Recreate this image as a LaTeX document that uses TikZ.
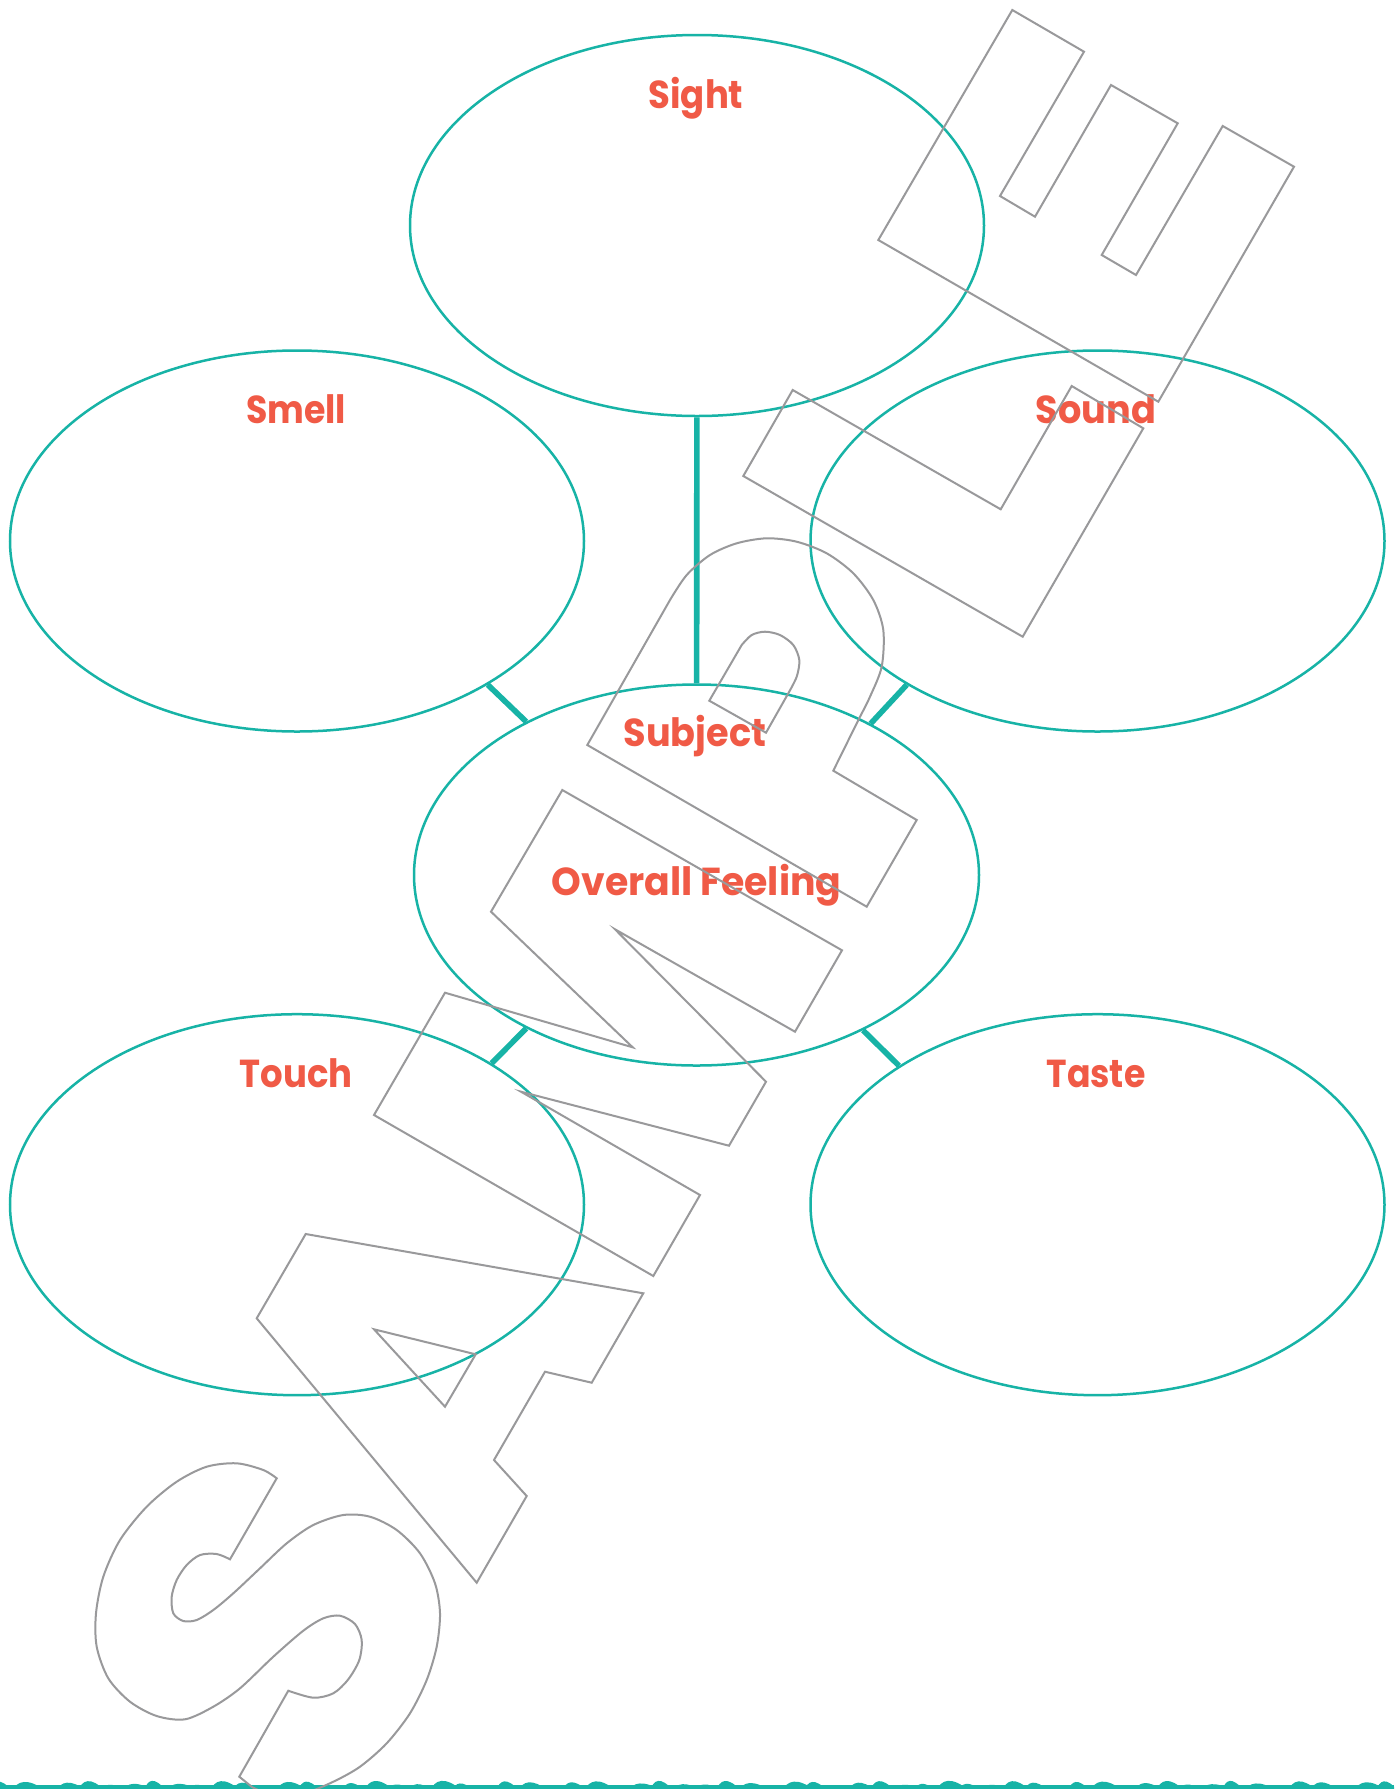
\documentclass[tikz,border=0pt]{standalone}
\usepackage{fontspec}
\setmainfont{Poppins}
\usetikzlibrary{shapes.geometric}
\definecolor{tealc}{HTML}{17B3A6}
\definecolor{coral}{HTML}{F05A46}
\definecolor{wm}{HTML}{99999B}
\newcommand{\hsq}[2]{\scalebox{#1}[1]{#2}}
\begin{document}
\begin{tikzpicture}[x=0.5pt,y=-0.5pt,
  sense/.style={ellipse, draw=tealc, line width=1.25pt, inner sep=0pt,
    minimum width=287pt, minimum height=190.5pt},
  lbl/.style={text=coral, font=\bfseries\fontsize{19.5}{23}\selectfont,
    inner sep=0pt, anchor=base},
  link/.style={draw=tealc, line width=2.8pt},
  wmline/.style={draw=wm, line width=1pt, line join=miter}]
\useasboundingbox (0,0) rectangle (1394,1789);
\fill[white] (0,0) rectangle (1394,1789);

% ellipses
\node[sense] (sight) at (697,225.5) {};
\node[sense] (smell) at (297,541) {};
\node[sense] (sound) at (1097.5,541) {};
\node[sense, minimum width=282.5pt] (subject) at (696.5,875) {};
\node[sense] (touch) at (297,1204.7) {};
\node[sense] (taste) at (1097.5,1204.7) {};

% connectors
\draw[link] (sight) -- (subject);
\draw[link] (smell.-37.6) -- (subject.138.3);
\draw[link] (sound.217.7) -- (subject.41.7);
\draw[link] (touch.36.5) -- (subject.222.3);
\draw[link] (taste.145.2) -- (subject.-43.7);

% labels
\node[lbl] (tsight) at (696,108) {\hsq{0.91}{Sight}};
\node[lbl] (tsmell) at (296,423) {\hsq{0.89}{Smell}};
\node[lbl] (tsound) at (1096,423) {\hsq{0.94}{Sound}};
\node[lbl] (tsubject) at (695,746.5) {\hsq{0.94}{Subject}};
\node[lbl] (tfeel) at (696.5,895) {\hsq{0.97}{Overall Feeling}};
\node[lbl] (ttouch) at (296,1087) {\hsq{0.91}{Touch}};
\node[lbl] (ttaste) at (1096,1087) {\hsq{0.89}{Taste}};

% wavy bottom border
\begin{scope}
\clip (0,0) rectangle (1394,1789);
\foreach \x [evaluate=\x as \w using {28+6*sin(\x*7)},
             evaluate=\x as \h using {9+2.5*cos(\x*5)}] in {-10,12,...,1400}
  \fill[tealc] (\x,1791) .. controls ({\x+0.15*\w},{1791-\h}) and ({\x+0.45*\w},{1791-1.35*\h}) .. ({\x+\w},1791) -- cycle;
\fill[tealc] (0,1785) rectangle (1394,1791);
\end{scope}

% SAMPLE watermark
\begin{scope}
\clip (0,0) rectangle (1394,1789);
% S
\draw[wmline] (276.7,1478.3) -- (230,1559.3)
  -- plot[smooth] coordinates {(230,1559.3) (216.7,1554) (200,1555) (186.7,1565) (176.7,1580) (171.7,1596.7) (173.3,1613.3) (183.3,1621) (196.7,1620) (213.3,1610) (233.3,1593.3) (260,1568.3) (286.7,1543.3) (313.3,1525) (343.3,1515) (370,1516.7) (396.7,1530) (420,1553.3) (435,1583.3) (440,1613.3) (436.7,1646.7) (426.7,1680) (410,1713.3) (386.7,1743.3) (360,1766.7) (333.3,1781.7) (305,1793) (275,1796) (252,1787)}
  -- (239.3,1776.7) -- (288.3,1690.7)
  -- plot[smooth] coordinates {(288.3,1690.7) (313.3,1697.7) (333.3,1693.3) (348.3,1679.3) (359.3,1660) (361.7,1640) (355,1624) (340,1615.7) (323.3,1618.3) (303.3,1630.7) (273.3,1656.7) (240,1688.3) (213.3,1706.7) (185,1719.3) (156.7,1716) (130,1701.7) (108.3,1678.3) (96.7,1646.7) (96,1613.3) (103.3,1576.7) (120,1540) (146.7,1506.7) (176.7,1481.7) (206.7,1466.7) (236.7,1463.3) (263.3,1470) (276.7,1478.3)}
  -- cycle;
% A
\draw[wmline] (305.7,1234) -- (256.7,1318.3) -- (476.7,1582.7) -- (526.7,1496)
  -- (494,1460) -- (545,1371.7) -- (591.7,1382.7) -- (643.3,1293.3) -- cycle;
\draw[wmline] (374,1329.3) -- (475.7,1354.3) -- (445,1406.7) -- cycle;
% M
\draw[wmline] (562.3,790) -- (491,911.7) -- (632.7,1047.3) -- (445,992.7)
  -- (374,1115) -- (653.3,1276) -- (700,1195) -- (521,1091.7) -- (729,1145.7)
  -- (766,1081.7) -- (615,929.3) -- (795,1031.7) -- (842,950.3) -- cycle;
% P
\draw[wmline] (587.3,745) -- (670,600)
  -- plot[smooth] coordinates {(670,600) (686.7,575) (710,555) (736.7,543.3) (766.7,538.3) (796.7,541.7) (826.7,553.3) (853.3,573.3) (873.3,600) (883.3,630) (881.7,666.7) (870,696.7) (860,716.7)}
  -- (833.3,770.7) -- (916.7,820) -- (866.7,906.7) -- cycle;
\draw[wmline] (709.3,700.7) -- (741.7,645)
  -- plot[smooth] coordinates {(741.7,645) (751.7,635) (765,631.7) (780,635) (793.3,645) (799.3,660) (796.7,676.7) (788.3,693.3)}
  -- (766,732.7) -- cycle;
% L
\draw[wmline] (792.7,390) -- (743.3,476) -- (1022.7,636.7) -- (1143.3,428.3)
  -- (1071.7,386) -- (1000.7,509.3) -- cycle;
% E
\draw[wmline] (878.3,240) -- (1012.3,10) -- (1084,51.7) -- (1000,196) -- (1035,216.7)
  -- (1111,85) -- (1177.7,123.3) -- (1101.7,255) -- (1136,275) -- (1222.7,126)
  -- (1294,166.7) -- (1158.3,401.7) -- cycle;
\end{scope}
\end{tikzpicture}
\end{document}
